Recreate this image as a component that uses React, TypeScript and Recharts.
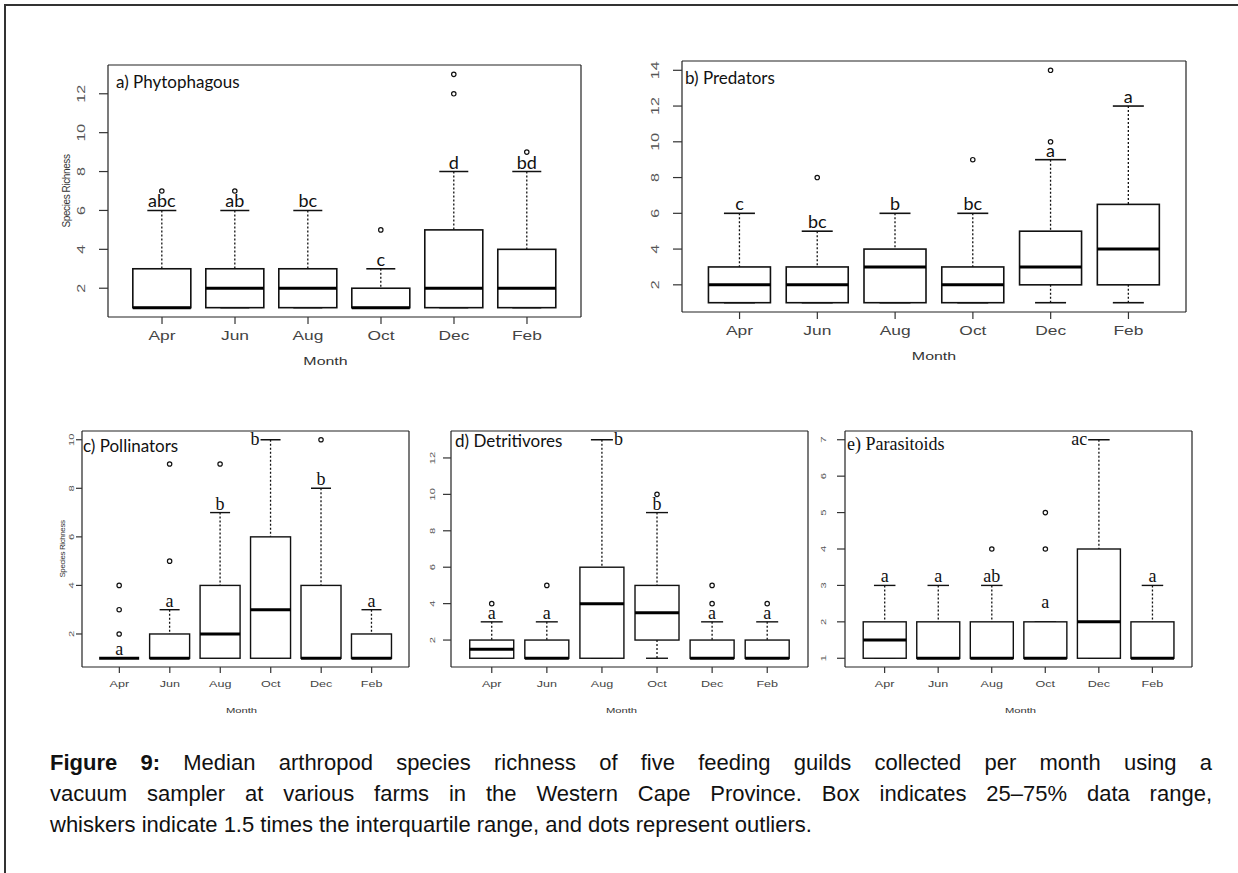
import React from "react"
import { ComposedChart, Bar, XAxis, YAxis, CartesianGrid } from "recharts"

const months = ["Apr", "Jun", "Aug", "Oct", "Dec", "Feb"]

// a) Phytophagous
const phytoLow = [1, 1, 1, 1, 1, 1]
const phytoQ1 = [1, 1, 1, 1, 1, 1]
const phytoMedian = [1, 2, 2, 1, 2, 2]
const phytoQ3 = [3, 3, 3, 2, 5, 4]
const phytoHigh = [6, 6, 6, 3, 8, 8]
const phytoOutliers = [[7], [7], [], [5], [12, 13], [9]]
const phytoLetters = ["abc", "ab", "bc", "c", "d", "bd"]
const phytoTicks = [2, 4, 6, 8, 10, 12]

// b) Predators
const predLow = [1, 1, 1, 1, 1, 1]
const predQ1 = [1, 1, 1, 1, 2, 2]
const predMedian = [2, 2, 3, 2, 3, 4]
const predQ3 = [3, 3, 4, 3, 5, 6.5]
const predHigh = [6, 5, 6, 6, 9, 12]
const predOutliers = [[], [8], [], [9], [10, 14], []]
const predLetters = ["c", "bc", "b", "bc", "a", "a"]
const predTicks = [2, 4, 6, 8, 10, 12, 14]

// c) Pollinators
const pollLow = [1, 1, 1, 1, 1, 1]
const pollQ1 = [1, 1, 1, 1, 1, 1]
const pollMedian = [1, 1, 2, 3, 1, 1]
const pollQ3 = [1, 2, 4, 6, 4, 2]
const pollHigh = [1, 3, 7, 10, 8, 3]
const pollOutliers = [[2, 3, 4], [5, 9], [9], [], [10], []]
const pollLetters = ["a", "a", "b", "b", "b", "a"]
const pollLetterSide = ["top", "top", "top", "left", "top", "top"]
const pollTicks = [2, 4, 6, 8, 10]

// d) Detritivores
const detLow = [1, 1, 1, 1, 1, 1]
const detQ1 = [1, 1, 1, 2, 1, 1]
const detMedian = [1.5, 1, 4, 3.5, 1, 1]
const detQ3 = [2, 2, 6, 5, 2, 2]
const detHigh = [3, 3, 13, 9, 3, 3]
const detOutliers = [[4], [5], [], [10], [4, 5], [4]]
const detLetters = ["a", "a", "b", "b", "a", "a"]
const detLetterSide = ["top", "top", "right", "top", "top", "top"]
const detTicks = [2, 4, 6, 8, 10, 12]

// e) Parasitoids
const paraLow = [1, 1, 1, 1, 1, 1]
const paraQ1 = [1, 1, 1, 1, 1, 1]
const paraMedian = [1.5, 1, 1, 1, 2, 1]
const paraQ3 = [2, 2, 2, 2, 4, 2]
const paraHigh = [3, 3, 3, 2, 7, 3]
const paraOutliers = [[], [], [4], [4, 5], [], []]
const paraLetters = ["a", "a", "ab", "a", "ac", "a"]
const paraLetterSide = ["top", "top", "top", "top", "left", "top"]
const paraLetterAt = [3, 3, 3, 2.3, 7, 3]
const paraTicks = [1, 2, 3, 4, 5, 6, 7]

const SANS = "'Liberation Sans', Arial, sans-serif"
const SERIF = "'Liberation Serif', 'Times New Roman', serif"
const CAL = "Lato, 'Open Sans', sans-serif"

type Look = {
  big: boolean
  letterFont: string
  letterSize: number
  titleFont: string
  titleSize: number
  titleDx: number
  titleDy: number
  yLabel: boolean
  yLabGap: number
  yLabX: number
  monthDx: number
}

function BoxShape(props: any) {
  const { x, y, width, height, payload, look } = props
  const d = payload
  const [e0, e1] = d.ext
  const pix = (v: number) => y + (height * (e1 - v)) / (e1 - e0)
  const cx = x + width / 2
  const half = width / 4
  const lw = look.big ? 1.6 : 1.4
  const side = d.side || "top"
  const ly = pix(d.at)
  let lx = cx
  let anchor = "middle"
  let dy = -3
  if (side === "left") {
    lx = cx - half - 1
    anchor = "end"
    dy = 5
  } else if (side === "right") {
    lx = cx + half + 1
    anchor = "start"
    dy = 5
  }
  return (
    <g>
      <line x1={cx} x2={cx} y1={pix(d.hi)} y2={pix(d.q3)} stroke="#111" strokeWidth={1.3} strokeDasharray="2 2" />
      <line x1={cx} x2={cx} y1={pix(d.q1)} y2={pix(d.lo)} stroke="#111" strokeWidth={1.3} strokeDasharray="2 2" />
      <line x1={cx - half} x2={cx + half} y1={pix(d.hi)} y2={pix(d.hi)} stroke="#111" strokeWidth={lw} />
      <line x1={cx - half} x2={cx + half} y1={pix(d.lo)} y2={pix(d.lo)} stroke="#111" strokeWidth={lw} />
      <rect x={x} y={pix(d.q3)} width={width} height={pix(d.q1) - pix(d.q3)} fill="#fff" stroke="#111" strokeWidth={lw} />
      <line x1={x} x2={x + width} y1={pix(d.med)} y2={pix(d.med)} stroke="#000" strokeWidth={3} />
      {d.out.map((o: number, i: number) => (
        <circle key={i} cx={cx} cy={pix(o)} r={2.2} fill="none" stroke="#111" strokeWidth={1.2} />
      ))}
      <text x={lx} y={ly + dy} textAnchor={anchor} fontFamily={look.letterFont} fontSize={look.letterSize} fill="#111">
        {d.letter}
      </text>
    </g>
  )
}

type PanelProps = {
  title: string
  low: number[]
  q1: number[]
  median: number[]
  q3: number[]
  high: number[]
  outliers: number[][]
  letters: string[]
  sides?: string[]
  letterAt?: number[]
  ticks: number[]
  frame: number[]
  look: Look
}

function Panel({ title, low, q1, median, q3, high, outliers, letters, sides, letterAt, ticks, frame, look }: PanelProps) {
  const [x0, y0, x1, y1] = frame
  const YW = 60
  const T = 10
  const R = 10
  const XH = 60
  const W = x1 - x0 + YW + R
  const H = y1 - y0 + T + XH
  const all = [...low, ...high, ...outliers.flat()]
  const mn = Math.min(...all)
  const mx = Math.max(...all)
  const ext = (mx - mn) * 0.04
  const rows = months.map((m, i) => {
    const pts = [low[i], high[i], ...outliers[i]]
    return {
      month: m,
      lo: low[i],
      q1: q1[i],
      med: median[i],
      q3: q3[i],
      hi: high[i],
      out: outliers[i],
      letter: letters[i],
      side: sides ? sides[i] : "top",
      at: letterAt ? letterAt[i] : high[i],
      ext: [Math.min(...pts), Math.max(...pts)],
    }
  })
  const xPad = ((x1 - x0) * 0.24) / 6.48
  const fb = T + (y1 - y0)
  const tickFont = look.big ? 12 : 9
  const yTickFont = look.big ? 11 : 8
  const sx = look.big ? 1.45 : 1.4
  const xLabGap = look.big ? 19 : 17
  const monthGap = look.big ? 44 : 43

  const XTick = (tp: any) => (
    <g transform={`translate(${tp.x},${fb + xLabGap})`}>
      <text transform={`scale(${sx},1)`} textAnchor="middle" dominantBaseline="central" fontFamily={SANS} fontSize={tickFont} fill="#444">
        {tp.payload.value}
      </text>
    </g>
  )
  const YTick = (tp: any) => (
    <g transform={`translate(${YW - look.yLabGap},${tp.y}) rotate(-90)`}>
      <text transform={`scale(${sx},1)`} textAnchor="middle" dominantBaseline="central" fontFamily={SANS} fontSize={yTickFont} fill="#555">
        {tp.payload.value}
      </text>
    </g>
  )

  return (
    <div style={{ position: "absolute", left: x0 - YW, top: y0 - T, width: W, height: H }}>
      <ComposedChart width={W} height={H} data={rows} margin={{ top: T, right: R, left: 0, bottom: 0 }}>
        <CartesianGrid
          stroke="#222"
          strokeWidth={1.2}
          horizontalCoordinatesGenerator={({ offset }: any) => [offset.top, offset.top + offset.height]}
          verticalCoordinatesGenerator={({ offset }: any) => [offset.left, offset.left + offset.width]}
        />
        <XAxis
          dataKey="month"
          type="category"
          height={XH}
          padding={{ left: xPad, right: xPad }}
          axisLine={false}
          tickLine={{ stroke: "#333", strokeWidth: 1.2 }}
          tickSize={look.big ? 7 : 6}
          interval={0}
          tick={XTick}
        />
        <YAxis
          type="number"
          width={YW}
          domain={[mn - ext, mx + ext]}
          ticks={ticks}
          allowDataOverflow
          axisLine={false}
          tickLine={{ stroke: "#333", strokeWidth: 1.2 }}
          tickSize={look.big ? 9 : look.yLabGap < 15 ? 6 : 8}
          tick={YTick}
        />
        <Bar dataKey="ext" isAnimationActive={false} shape={(sp: any) => <BoxShape {...sp} look={look} />} />
      </ComposedChart>
      <svg width={W} height={H} style={{ position: "absolute", left: 0, top: 0, pointerEvents: "none" }}>
        <text x={YW + look.titleDx} y={T + look.titleDy} fontFamily={look.titleFont} fontSize={look.titleSize} fill="#111">
          {title}
        </text>
        <g transform={`translate(${YW + (x1 - x0) / 2 + look.monthDx},${fb + monthGap})`}>
          <text transform={`scale(${sx},1)`} textAnchor="middle" dominantBaseline="central" fontFamily={SANS} fontSize={look.big ? 11 : 8} fill="#333">
            Month
          </text>
        </g>
        {look.yLabel && (
          <g transform={`translate(${look.yLabX},${T + (y1 - y0) / 2}) rotate(-90)`}>
            <text textAnchor="middle" dominantBaseline="central" fontFamily={SANS} fontSize={look.big ? 10 : 8} fill="#333" letterSpacing={-0.4}>
              Species Richness
            </text>
          </g>
        )}
      </svg>
    </div>
  )
}

const bigLook = (titleDx: number, titleDy: number, yLabel: boolean, monthDx: number): Look => ({
  big: true,
  letterFont: CAL,
  letterSize: 18,
  titleFont: CAL,
  titleSize: 17,
  titleDx,
  titleDy,
  yLabel,
  yLabGap: 27,
  yLabX: 18,
  monthDx,
})

const smallLook = (
  titleFont: string,
  titleSize: number,
  titleDx: number,
  titleDy: number,
  yLabel: boolean,
  yLabGap: number,
  monthDx: number
): Look => ({
  big: false,
  letterFont: SERIF,
  letterSize: 18,
  titleFont,
  titleSize,
  titleDx,
  titleDy,
  yLabel,
  yLabGap,
  yLabX: 40,
  monthDx,
})

export default function App() {
  return (
    <div style={{ position: "absolute", left: 0, top: 0, width: 1238, height: 873, background: "#fff", overflow: "hidden" }}>
      <div style={{ position: "absolute", left: 4, top: 4, width: 1240, height: 880, borderTop: "2px solid #333", borderLeft: "2px solid #333" }} />
      <Panel
        title="a) Phytophagous"
        low={phytoLow}
        q1={phytoQ1}
        median={phytoMedian}
        q3={phytoQ3}
        high={phytoHigh}
        outliers={phytoOutliers}
        letters={phytoLetters}
        ticks={phytoTicks}
        frame={[108, 65, 581, 317]}
        look={bigLook(8, 23, true, -19)}
      />
      <Panel
        title="b) Predators"
        low={predLow}
        q1={predQ1}
        median={predMedian}
        q3={predQ3}
        high={predHigh}
        outliers={predOutliers}
        letters={predLetters}
        ticks={predTicks}
        frame={[682, 61, 1186, 312]}
        look={bigLook(3, 23, false, 0)}
      />
      <Panel
        title="c) Pollinators"
        low={pollLow}
        q1={pollQ1}
        median={pollMedian}
        q3={pollQ3}
        high={pollHigh}
        outliers={pollOutliers}
        letters={pollLetters}
        sides={pollLetterSide}
        ticks={pollTicks}
        frame={[82, 431, 409, 667]}
        look={smallLook(CAL, 17, 1, 21, true, 11, -4)}
      />
      <Panel
        title="d) Detritivores"
        low={detLow}
        q1={detQ1}
        median={detMedian}
        q3={detQ3}
        high={detHigh}
        outliers={detOutliers}
        letters={detLetters}
        sides={detLetterSide}
        ticks={detTicks}
        frame={[451, 431, 808, 667]}
        look={smallLook(CAL, 17, 4, 16, false, 19, -8)}
      />
      <Panel
        title="e) Parasitoids"
        low={paraLow}
        q1={paraQ1}
        median={paraMedian}
        q3={paraQ3}
        high={paraHigh}
        outliers={paraOutliers}
        letters={paraLetters}
        sides={paraLetterSide}
        letterAt={paraLetterAt}
        ticks={paraTicks}
        frame={[845, 431, 1192, 667]}
        look={smallLook(SERIF, 18, 2, 19, false, 22, 2)}
      />
      <div style={{ position: "absolute", left: 50, top: 747, width: 1162, fontFamily: SANS, fontSize: 22, color: "#111" }}>
        <div style={{ height: 31, lineHeight: "31px", textAlign: "justify", textAlignLast: "justify" }}>
          <b>Figure 9:</b> Median arthropod species richness of five feeding guilds collected per month using a
        </div>
        <div style={{ height: 31, lineHeight: "31px", textAlign: "justify", textAlignLast: "justify" }}>
          vacuum sampler at various farms in the Western Cape Province. Box indicates 25–75% data range,
        </div>
        <div style={{ height: 31, lineHeight: "31px" }}>
          whiskers indicate 1.5 times the interquartile range, and dots represent outliers.
        </div>
      </div>
    </div>
  )
}
